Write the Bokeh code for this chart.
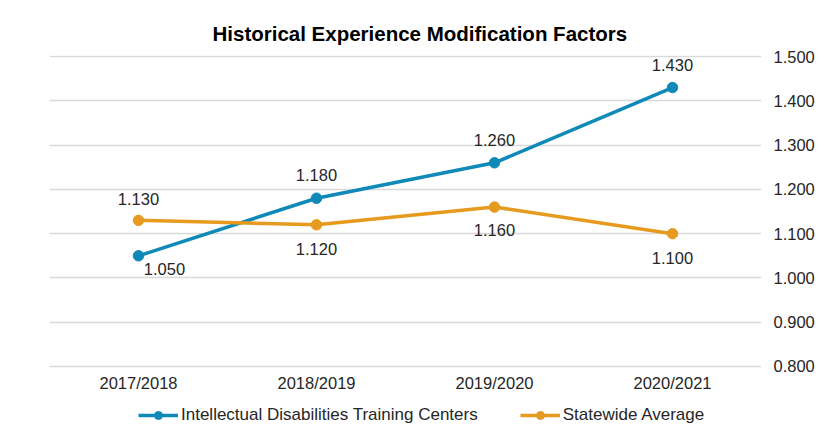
from bokeh.plotting import figure
from bokeh.models import ColumnDataSource, Legend, LegendItem, NumeralTickFormatter, FixedTicker, Range1d
from bokeh.embed import file_html
from bokeh.resources import INLINE
from bokeh.core.properties import value

# ---- data ----
years = ["2017/2018", "2018/2019", "2019/2020", "2020/2021"]
idtc = [1.050, 1.180, 1.260, 1.430]
statewide = [1.130, 1.120, 1.160, 1.100]
y_ticks = [0.8, 0.9, 1.0, 1.1, 1.2, 1.3, 1.4, 1.5]
title_text = "Historical Experience Modification Factors"
series_names = ["Intellectual Disabilities Training Centers", "Statewide Average"]

# ---- styling ----
BLUE = "#0F8AB8"
ORANGE = "#E69B1E"
FONT = "Liberation Sans"
TXT = "#262626"
FS = "16.5px"
# label offsets (pixels) per point
idtc_dx = [26, 0, 0, 0]
idtc_dy = [13, -23, -23, -23]
sw_dx = [0, 0, 0, 0]
sw_dy = [-21, 24, 23, 24]

# y range extends below the lowest tick to leave room for category labels and legend
p = figure(x_range=years, y_range=Range1d(0.6374, 1.5023), width=817, height=438,
           output_backend="svg", toolbar_location=None, y_axis_location="right",
           min_border_left=49, min_border_right=0, min_border_top=55, min_border_bottom=0)
p.outline_line_color = None
p.background_fill_color = "white"
p.border_fill_color = "white"

p.title.text = title_text
p.title.text_font = FONT
p.title.text_font_size = "20.5px"
p.title.text_font_style = "bold"
p.title.text_color = "black"
p.title.align = "left"
p.title.offset = 163
p.title.standoff = 22

# grid
p.xgrid.grid_line_color = None
p.ygrid.grid_line_color = "#d9d9d9"
p.ygrid.grid_line_width = 1.3
p.yaxis.ticker = FixedTicker(ticks=y_ticks)

# axes
p.yaxis.formatter = NumeralTickFormatter(format="0.000")
p.xaxis.fixed_location = y_ticks[0]
for ax in (p.xaxis, p.yaxis):
    ax.axis_line_color = None
    ax.major_tick_line_color = None
    ax.minor_tick_line_color = None
    ax.major_tick_out = 0
    ax.major_tick_in = 0
    ax.minor_tick_out = 0
    ax.major_label_text_font = FONT
    ax.major_label_text_font_size = FS
    ax.major_label_text_color = TXT
p.yaxis.major_label_standoff = 12
p.xaxis.major_label_standoff = 8

src1 = ColumnDataSource(dict(x=years, y=idtc, lab=[f"{v:.3f}" for v in idtc], dx=idtc_dx, dy=idtc_dy))
src2 = ColumnDataSource(dict(x=years, y=statewide, lab=[f"{v:.3f}" for v in statewide], dx=sw_dx, dy=sw_dy))

l1 = p.line("x", "y", source=src1, line_color=BLUE, line_width=3.5)
s1 = p.scatter("x", "y", source=src1, size=10.5, fill_color=BLUE, line_color=BLUE)
l2 = p.line("x", "y", source=src2, line_color=ORANGE, line_width=3.5)
s2 = p.scatter("x", "y", source=src2, size=10.5, fill_color=ORANGE, line_color=ORANGE)

for src in (src1, src2):
    p.text("x", "y", text="lab", source=src, x_offset="dx", y_offset="dy",
           text_align="center", text_baseline="middle",
           text_font=value(FONT), text_font_size=FS, text_color=TXT)

legend = Legend(items=[LegendItem(label=series_names[0], renderers=[l1, s1]),
                       LegendItem(label=series_names[1], renderers=[l2, s2])],
                orientation="horizontal", location=(89, 13))
legend.label_text_font = FONT
legend.label_text_font_size = "17px"
legend.label_text_color = TXT
legend.glyph_width = 40
legend.label_standoff = 3
legend.spacing = 42
legend.border_line_color = None
legend.background_fill_alpha = 0
legend.padding = 4
legend.margin = 0
p.add_layout(legend, "center")

open("out.html", "w").write(file_html(p, INLINE))
